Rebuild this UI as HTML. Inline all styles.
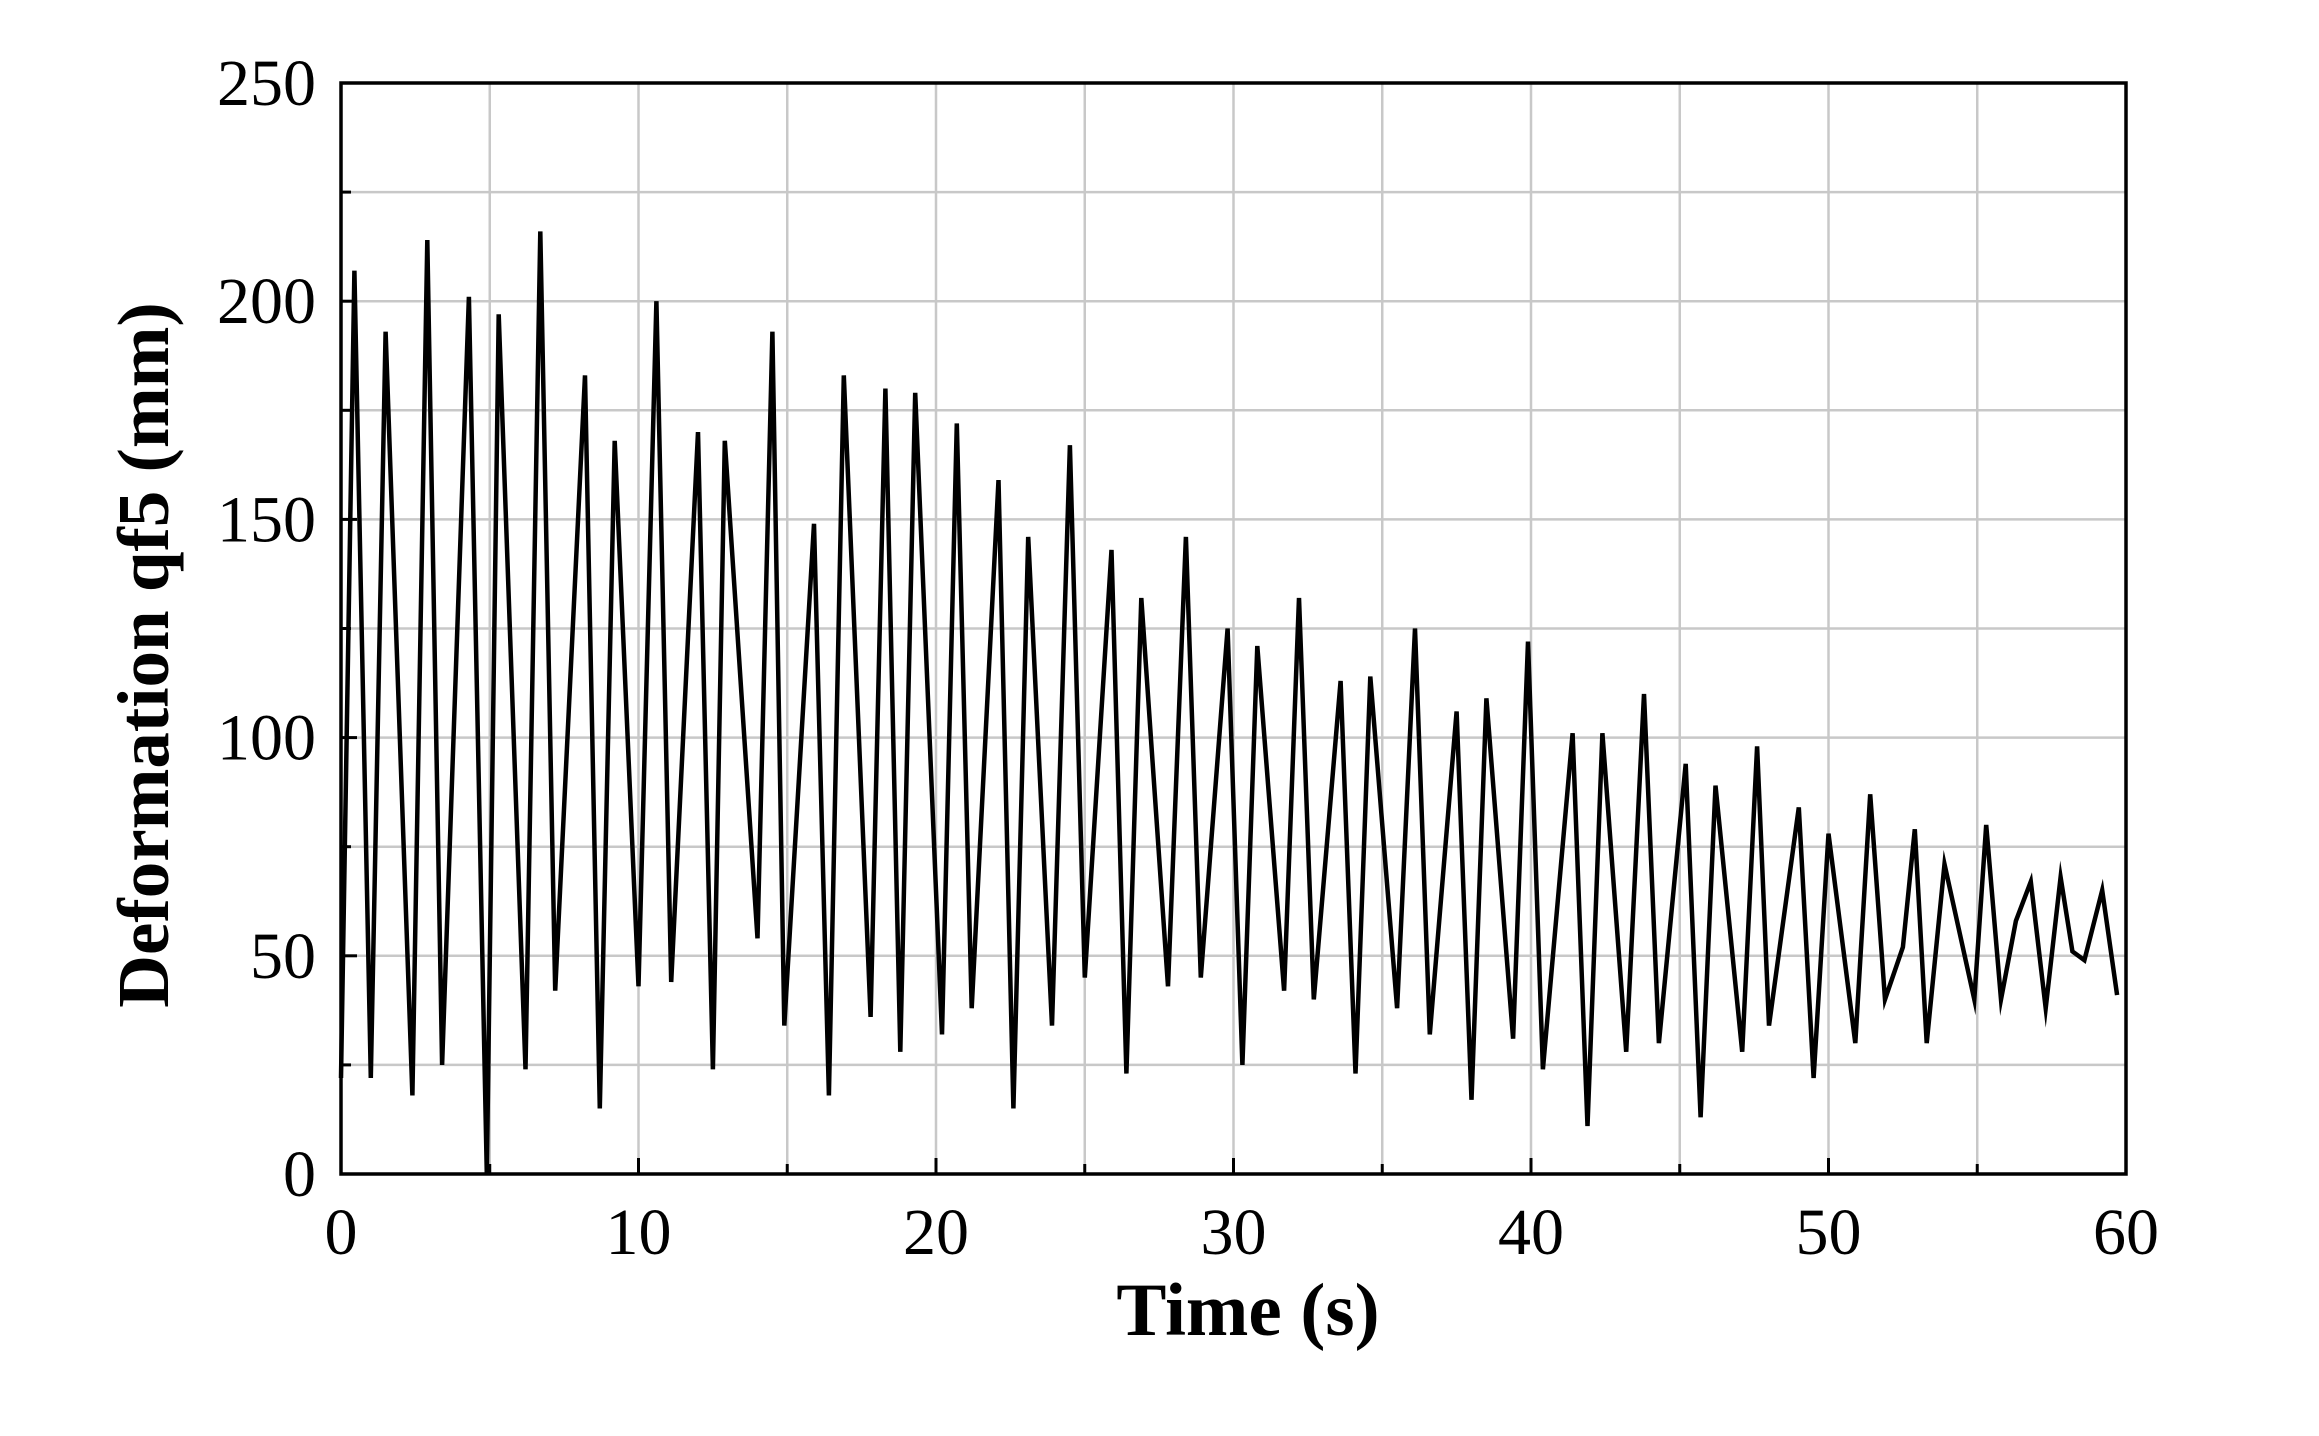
<!DOCTYPE html>
<html><head><meta charset="utf-8"><style>
html,body{margin:0;padding:0;background:#fff;}
svg text{font-family:"Liberation Serif",serif;fill:#000;}
</style></head><body>
<svg id="chart" width="2319" height="1431" viewBox="0 0 2319 1431" xmlns="http://www.w3.org/2000/svg">
<g id="grid"></g>
<g id="series"></g>
<g id="axes"></g>
<text x="1248" y="1335" font-size="75" font-weight="bold" text-anchor="middle">Time (s)</text>
<text transform="translate(168,655) rotate(-90)" font-size="73" font-weight="bold" text-anchor="middle">Deformation qf5 (mm)</text>
</svg>
<script>
const times=[0,0.45,1.0,1.5,2.4,2.9,3.4,4.3,4.9,5.3,6.2,6.7,7.2,8.2,8.7,9.2,10.0,10.6,11.1,12.0,12.5,12.9,14.0,14.5,14.9,15.9,16.4,16.9,17.8,18.3,18.8,19.3,20.2,20.7,21.2,22.1,22.6,23.1,23.9,24.5,25.0,25.9,26.4,26.9,27.8,28.4,28.9,29.8,30.3,30.8,31.7,32.2,32.7,33.6,34.1,34.6,35.5,36.1,36.6,37.5,38.0,38.5,39.4,39.9,40.4,41.4,41.9,42.4,43.2,43.8,44.3,45.2,45.7,46.2,47.1,47.6,48.0,49.0,49.5,50.0,50.9,51.4,51.9,52.5,52.9,53.3,53.9,54.9,55.3,55.8,56.3,56.8,57.3,57.8,58.2,58.6,59.2,59.7];
const values=[22,207,22,193,18,214,25,201,0,197,24,216,42,183,15,168,43,200,44,170,24,168,54,193,34,149,18,183,36,180,28,179,32,172,38,159,15,146,34,167,45,143,23,132,43,146,45,125,25,121,42,132,40,113,23,114,38,125,32,106,17,109,31,122,24,101,11,101,28,110,30,94,13,89,28,98,34,84,22,78,30,87,40,52,79,30,71,40,80,40,58,67,38,68,51,49,65,41];
const xTicks=[0,10,20,30,40,50,60];
const yTicks=[0,50,100,150,200,250];
const L=341,R=2126,T=83,B=1174;
const xS=t=>L+(t-0)/(60-0)*(R-L);
const yS=v=>B-(v-0)/(250-0)*(B-T);
const NS="http://www.w3.org/2000/svg";
function mk(tag,parent,attrs){const e=document.createElementNS(NS,tag);for(const k in attrs)e.setAttribute(k,attrs[k]);parent.appendChild(e);return e;}
const grid=document.getElementById('grid'),axes=document.getElementById('axes'),series=document.getElementById('series');
for(let t=5;t<60;t+=5){const l=mk('line',grid,{x1:xS(t),x2:xS(t),y1:T,y2:B,stroke:'#c8c8c8','stroke-width':2.5});

}
for(let v=25;v<250;v+=25){const l=mk('line',grid,{x1:L,x2:R,y1:yS(v),y2:yS(v),stroke:'#c8c8c8','stroke-width':2.5});

}
const pts=times.map((t,i)=>xS(t).toFixed(1)+','+yS(values[i]).toFixed(1)).join(' ');
const pl=mk('polyline',series,{points:pts,fill:'none',stroke:'#000','stroke-width':4.5,'stroke-linejoin':'miter','stroke-miterlimit':10});


const fr=mk('rect',axes,{x:L,y:T,width:R-L,height:B-T,fill:'none',stroke:'#000','stroke-width':3.5});


for(let t=0;t<=60;t+=5){const tk=mk('line',axes,{x1:xS(t),x2:xS(t),y1:B,y2:B-(t%10===0?16:10),stroke:'#000','stroke-width':3});

}
for(let v=0;v<=250;v+=25){const tk=mk('line',axes,{x1:L,x2:L+(v%50===0?16:10),y1:yS(v),y2:yS(v),stroke:'#000','stroke-width':3});

}
xTicks.forEach(t=>{const tx=mk('text',axes,{x:xS(t),y:1254,'font-size':66,'text-anchor':'middle'});tx.textContent=t;

});
yTicks.forEach(v=>{const tx=mk('text',axes,{x:316,y:yS(v)+22,'font-size':66,'text-anchor':'end'});tx.textContent=v;

});
</script>
</body></html>
